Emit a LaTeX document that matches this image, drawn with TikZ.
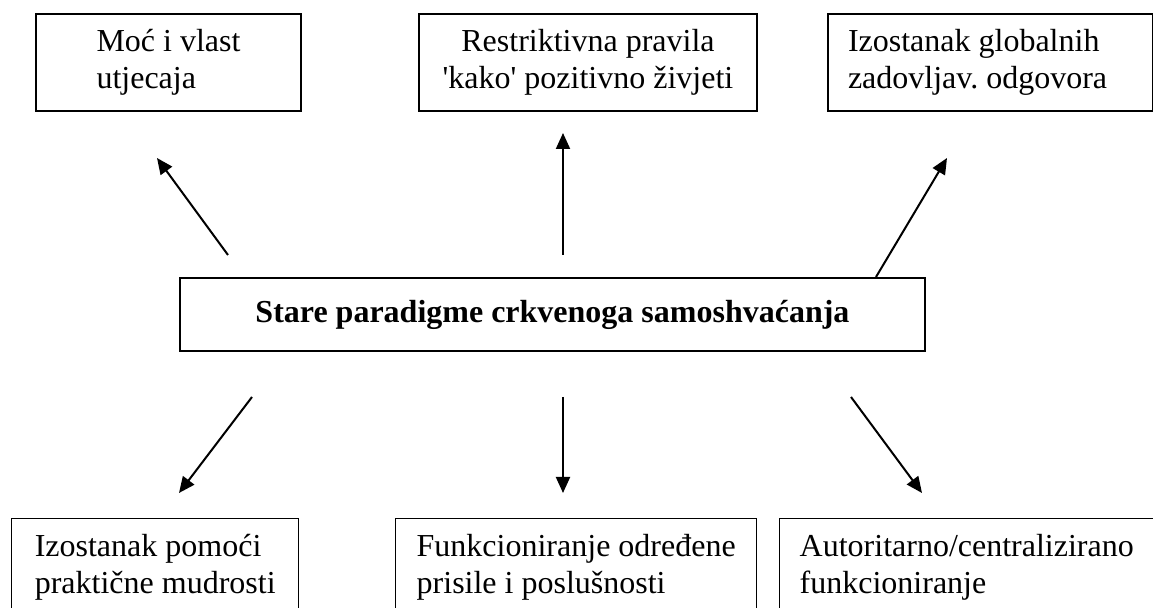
\documentclass[tikz,border=0pt]{standalone}
\usepackage{fontspec}
\setmainfont{Liberation Serif}
\usepackage{tikz}
\usetikzlibrary{arrows.meta,calc}
\frenchspacing

\tikzset{
	box/.style={draw, line width=1pt, align=flush left, inner xsep=10pt, inner ysep=0pt, minimum height=48.5pt, anchor=north west, font=\fontsize{16}{18.5}\selectfont},
	lowbox/.style={box, line width=0.7pt},
	arr/.style={line width=1pt, -{Triangle[length=8pt,width=7pt]}}
}

\begin{document}
\begin{tikzpicture}[x=0.5pt,y=-0.5pt]
					\useasboundingbox (0,0) rectangle (1153,608);
					\node[box, minimum width=132.5pt] (moc) at (35,13) {Moć i vlast\\utjecaja};
					\node[box, align=center, minimum width=169pt] (pravila) at (418,13) {Restriktivna pravila\\{\textquotesingle}kako{\textquotesingle} pozitivno živjeti};
					\node[box, text width=142.5pt] (odgovor) at (827,13) {Izostanak globalnih\\zadovljav. odgovora};
					\node[box, align=center, minimum width=372.5pt, minimum height=36.5pt, font=\fontsize{16}{18.5}\selectfont\bfseries] (stare) at (179,277) {Stare paradigme crkvenoga samoshvaćanja};
					\node[lowbox, minimum width=143.5pt] (mudrost) at (11,518) {Izostanak pomoći\\praktične mudrosti};
					\node[lowbox, minimum width=180.5pt] (prisila) at (395,518) {Funkcioniranje određene\\prisile i poslušnosti};
					\node[lowbox, text width=180pt] (autoritet) at (779,518) {Autoritarno/centralizirano\\funkcioniranje};
					\coordinate (moc in) at (157,158);
					\coordinate (moc out) at (228,255);
					\coordinate (pravila in) at (563,133);
					\coordinate (pravila out) at (563,255);
					\coordinate (odgovor in) at (947,158);
					\coordinate (odgovor out) at (876,277);
					\coordinate (mudrost in) at (179,493);
					\coordinate (mudrost out) at (252,397);
					\coordinate (prisila in) at (563,493);
					\coordinate (prisila out) at (563,397);
					\coordinate (autoritet in) at (922,493);
					\coordinate (autoritet out) at (851,397);
					\draw[arr] (moc out) -- (moc in);
					\draw[arr] (pravila out) -- (pravila in);
					\draw[arr] (odgovor out) -- (odgovor in);
					\draw[arr] (mudrost out) -- (mudrost in);
					\draw[arr] (prisila out) -- (prisila in);
					\draw[arr] (autoritet out) -- (autoritet in);
				\end{tikzpicture}
\end{document}
